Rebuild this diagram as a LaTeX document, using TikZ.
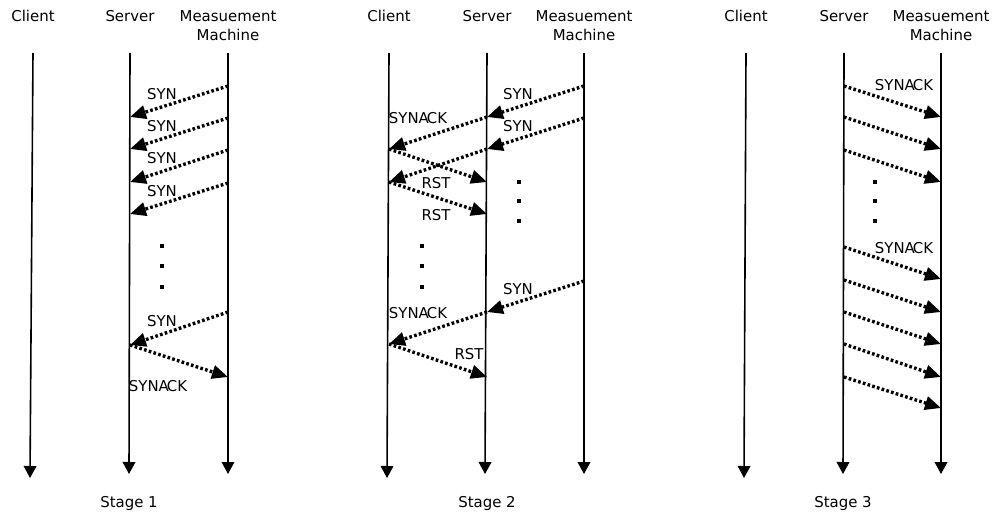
\documentclass[tikz,border=0pt]{standalone}
\usepackage{fontspec}
\setmainfont{DejaVu Sans}
\usetikzlibrary{arrows.meta}
\begin{document}
\begin{tikzpicture}[x=0.75pt,y=-0.75pt,
  life/.style={line width=1.2pt,-{Triangle[length=9pt,width=9.5pt]}},
  msg/.style={line width=2.5pt,dash pattern=on 2pt off 1.7pt,-{Triangle[length=12pt,width=10pt]}},
  lbl/.style={font=\fontsize{11.2}{13}\selectfont,inner sep=0pt},
  hdr/.style={font=\fontsize{11.2}{14.25}\selectfont,align=center,inner sep=0pt,anchor=north},
  dotmark/.style={fill,minimum size=3pt,inner sep=0pt,outer sep=0pt}]
\useasboundingbox (0,0) rectangle (995,513);
\newcommand{\synack}{SYNA\kern-1.5pt CK}

% ---------- headers ----------
\foreach \s/\xc/\xs/\xm in {1/33/130/228, 2/389/487/584, 3/746/844/941}{
  \node[hdr] (client\s) at (\xc,10) {Client};
  \node[hdr] (server\s) at (\xs,10) {Server};
  \node[hdr] (meas\s) at (\xm,10) {Measuement\\Machine};
}

% ---------- lifelines ----------
\foreach \n/\xa/\xb/\yb in {c1/33/30/478, s1/130/129/474, m1/228/228/474,
                             c2/389/387/478, s2/487/485/474, m2/584/584/474,
                             c3/746/744/478, s3/844/843/474, m3/941/941/474}{
  \coordinate (\n-top) at (\xa,53);
  \coordinate (\n-bot) at (\xb,\yb);
  \draw[life] (\n-top) -- (\n-bot);
}

% ---------- messages ----------
\foreach \n/\xa/\ya/\xb/\yb in {
   a1/228/86/130/117, a2/228/118/130/149, a3/228/150/130/182, a4/228/183/130/214,
   a5/228/312/130/345, a6/130/345/228/377,
   b1/584/86/487/117, b2/584/118/487/149, b3/487/117/389/149, b4/487/149/389/182,
   b5/389/149/487/182, b6/389/182/487/214, b7/584/281/487/312, b8/487/312/389/344,
   b9/389/344/487/377,
   d1/844/86/941/117, d2/844/117/941/149, d3/844/150/941/182, d4/844/247/941/279,
   d5/844/280/941/312, d6/844/312/941/344, d7/844/344/941/377, d8/844/377/941/408}{
  \coordinate (\n-s) at (\xa,\ya);
  \coordinate (\n-e) at (\xb,\yb);
  \draw[msg] (\n-s) -- (\n-e);
}

% ---------- message labels ----------
\node[lbl] (la1) at (162,94) {SYN};
\node[lbl] (la2) at (162,126) {SYN};
\node[lbl] (la3) at (162,158) {SYN};
\node[lbl] (la4) at (162,191) {SYN};
\node[lbl] (la5) at (162,321) {SYN};
\node[lbl] (la6) at (158,386) {\synack};

\node[lbl] (lb1) at (518,94) {SYN};
\node[lbl] (lb2) at (518,126) {SYN};
\node[lbl] (lb3) at (418,118) {\synack};
\node[lbl] (lb5) at (436,183.5) {RST};
\node[lbl] (lb6) at (436,215) {RST};
\node[lbl] (lb7) at (518,289) {SYN};
\node[lbl] (lb8) at (418,313) {\synack};
\node[lbl] (lb9) at (469,354) {RST};

\node[lbl] (ld1) at (904,85.5) {\synack};
\node[lbl] (ld4) at (904,248) {\synack};

% ---------- ellipsis dots ----------
\foreach \n/\x/\y in {p1/162/246, p2/162/266, p3/162/287,
                      q1/519/182, q2/519/201.5, q3/519/221.5,
                      q4/422/246, q5/422/266, q6/422/287,
                      r1/875/182, r2/875/201.5, r3/875/221.5}{
  \node[dotmark] (\n) at (\x,\y) {};
}

% ---------- stage captions ----------
\node[lbl,anchor=base] (stage1) at (129,507) {Stage 1};
\node[lbl,anchor=base] (stage2) at (487,507) {Stage 2};
\node[lbl,anchor=base] (stage3) at (843,507) {Stage 3};
\end{tikzpicture}
\end{document}
